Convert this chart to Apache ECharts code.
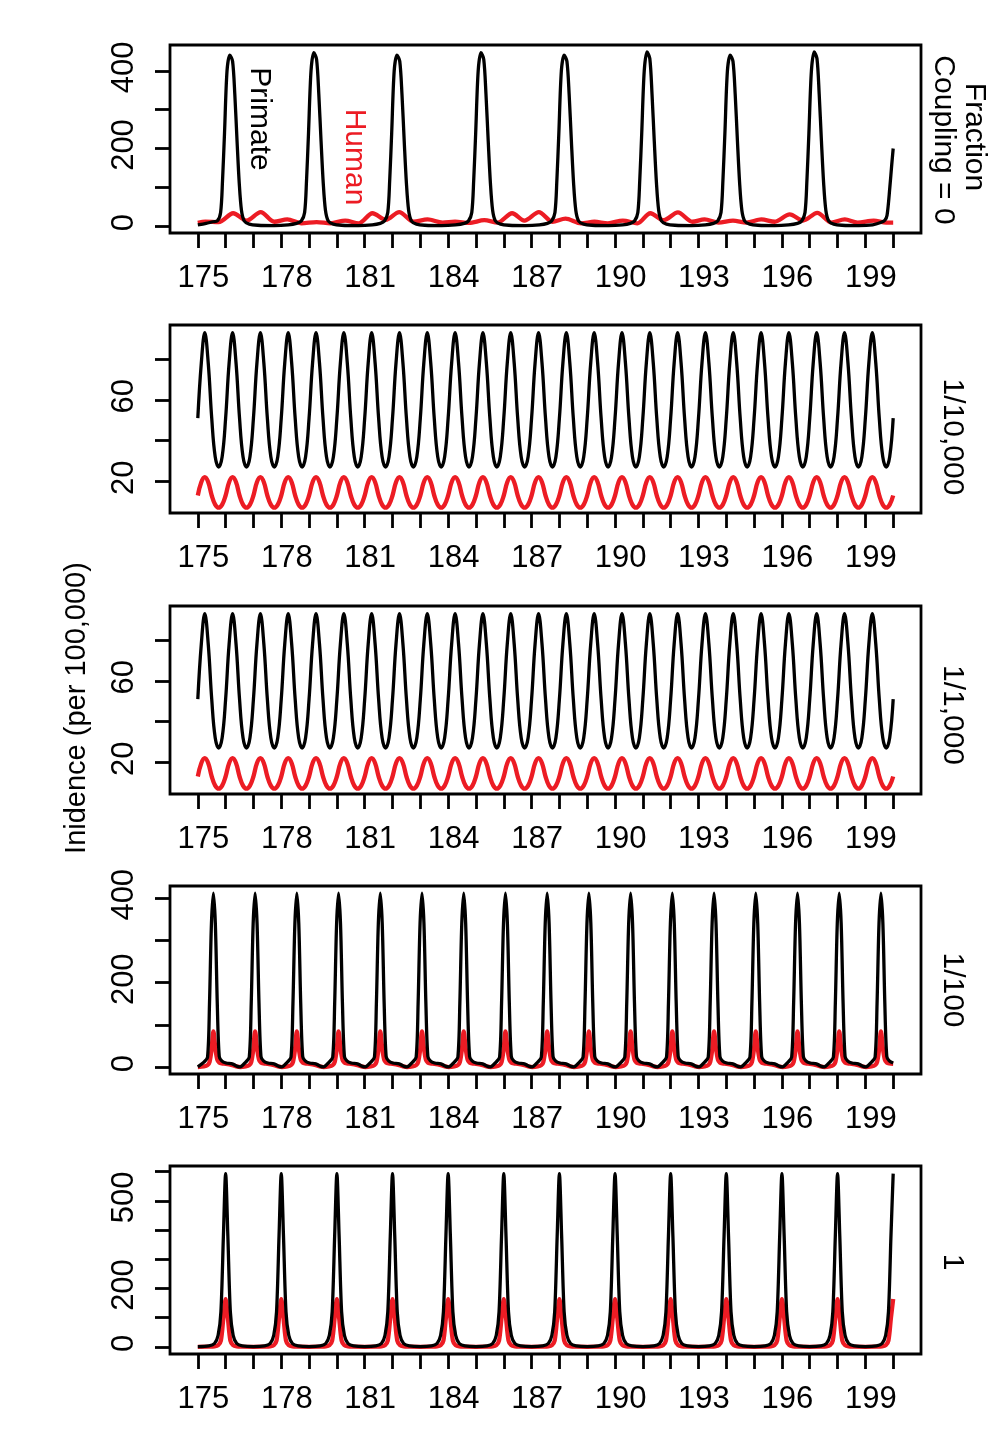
<!DOCTYPE html>
<html>
<head>
<meta charset="utf-8">
<script src="https://cdn.jsdelivr.net/npm/echarts@6/dist/echarts.min.js"></script>
<style>
  html, body { margin: 0; padding: 0; background: #fff; }
  #chart { width: 1004px; height: 1438px; }
</style>
</head>
<body>
<div id="chart"></div>
<script>
// 数据

var xTickYears = [175,176,177,178,179,180,181,182,183,184,185,186,187,188,189,190,191,192,193,194,195,196,197,198,199,200];
var xLabelYears = [175,178,181,184,187,190,193,196,199];

// coupling = 0
var primateFrac0 = [
  [175.0,3],[175.3,7],[175.55,11],[175.7,13],
  [175.82,35],[175.89,120],[175.96,240],[176.05,400],[176.15,441],[176.25,425],[176.33,340],[176.41,220],[176.49,110],[176.57,40],[176.67,13],[176.85,5],
  [177.15,2],[177.75,1],[178.25,3],[178.55,7],[178.72,13],
  [178.84,35],[178.91,120],[178.98,240],[179.07,400],[179.17,447],[179.27,430],[179.35,340],[179.43,220],[179.51,110],[179.59,40],[179.69,13],[179.87,5],
  [180.17,2],[180.77,1],[181.27,3],[181.56,7],[181.71,13],
  [181.83,35],[181.9,120],[181.97,240],[182.06,400],[182.16,441],[182.26,425],[182.34,340],[182.42,220],[182.5,110],[182.58,40],[182.68,13],[182.86,5],
  [183.16,2],[183.76,1],[184.26,3],[184.58,7],[184.73,13],
  [184.85,35],[184.92,120],[184.99,240],[185.08,400],[185.18,447],[185.28,430],[185.36,340],[185.44,220],[185.52,110],[185.6,40],[185.7,13],[185.88,5],
  [186.18,2],[186.78,1],[187.28,3],[187.57,7],[187.72,13],
  [187.84,35],[187.91,120],[187.98,240],[188.07,400],[188.17,441],[188.27,425],[188.35,340],[188.43,220],[188.51,110],[188.59,40],[188.69,13],[188.87,5],
  [189.17,2],[189.77,1],[190.27,3],[190.55,7],[190.7,13],
  [190.82,35],[190.89,120],[190.96,240],[191.05,400],[191.15,449],[191.25,432],[191.33,340],[191.41,220],[191.49,110],[191.57,40],[191.67,13],[191.85,5],
  [192.15,2],[192.75,1],[193.25,3],[193.54,7],[193.69,13],
  [193.81,35],[193.88,120],[193.95,240],[194.04,400],[194.14,441],[194.24,425],[194.32,340],[194.4,220],[194.48,110],[194.56,40],[194.66,13],[194.84,5],
  [195.14,2],[195.74,1],[196.24,3],[196.56,7],[196.71,13],
  [196.83,35],[196.9,120],[196.97,240],[197.06,400],[197.16,449],[197.26,432],[197.34,340],[197.42,220],[197.5,110],[197.58,40],[197.68,13],[197.86,5],
  [198.16,2],[198.76,1],[199.26,3],[199.55,9],[199.7,15],[199.78,28],[199.88,100],[199.95,160],[200.0,200]
];
var humanFrac0 = [
  [175.0,8],[175.27,11],[175.75,10],[176.27,33],[176.75,14],[177.26,36],[177.75,11],[178.22,17],[178.72,7],
  [179.27,10],[179.77,7],[180.3,14],[180.78,7],[181.28,33],[181.76,16],[182.24,36],[182.76,11],[183.26,17],
  [183.8,9],[184.25,11],[184.75,8],[185.3,15],[185.78,9],[186.3,33],[186.74,14],[187.26,36],[187.75,11],
  [188.22,19],[188.78,7],[189.26,11],[189.74,7],[190.28,14],[190.8,7],[191.27,33],[191.75,15],[192.26,35],
  [192.78,11],[193.22,17],[193.72,9],[194.24,14],[194.72,9],[195.26,17],[195.74,11],[196.28,30],[196.76,14],
  [197.27,34],[197.78,9],[198.26,17],[198.72,9],[199.3,14],[199.75,9],[200.0,9]
];

// 1/10,000 和 1/1,000（每 1/8 年一个点）
var eighthYears = [
  175,175.125,175.25,175.375,175.5,175.625,175.75,175.875,
  176,176.125,176.25,176.375,176.5,176.625,176.75,176.875,
  177,177.125,177.25,177.375,177.5,177.625,177.75,177.875,
  178,178.125,178.25,178.375,178.5,178.625,178.75,178.875,
  179,179.125,179.25,179.375,179.5,179.625,179.75,179.875,
  180,180.125,180.25,180.375,180.5,180.625,180.75,180.875,
  181,181.125,181.25,181.375,181.5,181.625,181.75,181.875,
  182,182.125,182.25,182.375,182.5,182.625,182.75,182.875,
  183,183.125,183.25,183.375,183.5,183.625,183.75,183.875,
  184,184.125,184.25,184.375,184.5,184.625,184.75,184.875,
  185,185.125,185.25,185.375,185.5,185.625,185.75,185.875,
  186,186.125,186.25,186.375,186.5,186.625,186.75,186.875,
  187,187.125,187.25,187.375,187.5,187.625,187.75,187.875,
  188,188.125,188.25,188.375,188.5,188.625,188.75,188.875,
  189,189.125,189.25,189.375,189.5,189.625,189.75,189.875,
  190,190.125,190.25,190.375,190.5,190.625,190.75,190.875,
  191,191.125,191.25,191.375,191.5,191.625,191.75,191.875,
  192,192.125,192.25,192.375,192.5,192.625,192.75,192.875,
  193,193.125,193.25,193.375,193.5,193.625,193.75,193.875,
  194,194.125,194.25,194.375,194.5,194.625,194.75,194.875,
  195,195.125,195.25,195.375,195.5,195.625,195.75,195.875,
  196,196.125,196.25,196.375,196.5,196.625,196.75,196.875,
  197,197.125,197.25,197.375,197.5,197.625,197.75,197.875,
  198,198.125,198.25,198.375,198.5,198.625,198.75,198.875,
  199,199.125,199.25,199.375,199.5,199.625,199.75,199.875,
  200
];
var primate10k = [
  51,78,93,78,51,32,27,32, 51,78,93,78,51,32,27,32, 51,78,93,78,51,32,27,32, 51,78,93,78,51,32,27,32,
  51,78,93,78,51,32,27,32, 51,78,93,78,51,32,27,32, 51,78,93,78,51,32,27,32, 51,78,93,78,51,32,27,32,
  51,78,93,78,51,32,27,32, 51,78,93,78,51,32,27,32, 51,78,93,78,51,32,27,32, 51,78,93,78,51,32,27,32,
  51,78,93,78,51,32,27,32, 51,78,93,78,51,32,27,32, 51,78,93,78,51,32,27,32, 51,78,93,78,51,32,27,32,
  51,78,93,78,51,32,27,32, 51,78,93,78,51,32,27,32, 51,78,93,78,51,32,27,32, 51,78,93,78,51,32,27,32,
  51,78,93,78,51,32,27,32, 51,78,93,78,51,32,27,32, 51,78,93,78,51,32,27,32, 51,78,93,78,51,32,27,32,
  51,78,93,78,51,32,27,32, 51
];
var human10k = [
  13,19.5,22,19.5,13,8.5,7,8.5, 13,19.5,22,19.5,13,8.5,7,8.5, 13,19.5,22,19.5,13,8.5,7,8.5, 13,19.5,22,19.5,13,8.5,7,8.5,
  13,19.5,22,19.5,13,8.5,7,8.5, 13,19.5,22,19.5,13,8.5,7,8.5, 13,19.5,22,19.5,13,8.5,7,8.5, 13,19.5,22,19.5,13,8.5,7,8.5,
  13,19.5,22,19.5,13,8.5,7,8.5, 13,19.5,22,19.5,13,8.5,7,8.5, 13,19.5,22,19.5,13,8.5,7,8.5, 13,19.5,22,19.5,13,8.5,7,8.5,
  13,19.5,22,19.5,13,8.5,7,8.5, 13,19.5,22,19.5,13,8.5,7,8.5, 13,19.5,22,19.5,13,8.5,7,8.5, 13,19.5,22,19.5,13,8.5,7,8.5,
  13,19.5,22,19.5,13,8.5,7,8.5, 13,19.5,22,19.5,13,8.5,7,8.5, 13,19.5,22,19.5,13,8.5,7,8.5, 13,19.5,22,19.5,13,8.5,7,8.5,
  13,19.5,22,19.5,13,8.5,7,8.5, 13,19.5,22,19.5,13,8.5,7,8.5, 13,19.5,22,19.5,13,8.5,7,8.5, 13,19.5,22,19.5,13,8.5,7,8.5,
  13,19.5,22,19.5,13,8.5,7,8.5, 13
];
var primate1k = [
  51,78,93,78,51,32,27,32, 51,78,93,78,51,32,27,32, 51,78,93,78,51,32,27,32, 51,78,93,78,51,32,27,32,
  51,78,93,78,51,32,27,32, 51,78,93,78,51,32,27,32, 51,78,93,78,51,32,27,32, 51,78,93,78,51,32,27,32,
  51,78,93,78,51,32,27,32, 51,78,93,78,51,32,27,32, 51,78,93,78,51,32,27,32, 51,78,93,78,51,32,27,32,
  51,78,93,78,51,32,27,32, 51,78,93,78,51,32,27,32, 51,78,93,78,51,32,27,32, 51,78,93,78,51,32,27,32,
  51,78,93,78,51,32,27,32, 51,78,93,78,51,32,27,32, 51,78,93,78,51,32,27,32, 51,78,93,78,51,32,27,32,
  51,78,93,78,51,32,27,32, 51,78,93,78,51,32,27,32, 51,78,93,78,51,32,27,32, 51,78,93,78,51,32,27,32,
  51,78,93,78,51,32,27,32, 51
];
var human1k = [
  13,19.5,22,19.5,13,8.5,7,8.5, 13,19.5,22,19.5,13,8.5,7,8.5, 13,19.5,22,19.5,13,8.5,7,8.5, 13,19.5,22,19.5,13,8.5,7,8.5,
  13,19.5,22,19.5,13,8.5,7,8.5, 13,19.5,22,19.5,13,8.5,7,8.5, 13,19.5,22,19.5,13,8.5,7,8.5, 13,19.5,22,19.5,13,8.5,7,8.5,
  13,19.5,22,19.5,13,8.5,7,8.5, 13,19.5,22,19.5,13,8.5,7,8.5, 13,19.5,22,19.5,13,8.5,7,8.5, 13,19.5,22,19.5,13,8.5,7,8.5,
  13,19.5,22,19.5,13,8.5,7,8.5, 13,19.5,22,19.5,13,8.5,7,8.5, 13,19.5,22,19.5,13,8.5,7,8.5, 13,19.5,22,19.5,13,8.5,7,8.5,
  13,19.5,22,19.5,13,8.5,7,8.5, 13,19.5,22,19.5,13,8.5,7,8.5, 13,19.5,22,19.5,13,8.5,7,8.5, 13,19.5,22,19.5,13,8.5,7,8.5,
  13,19.5,22,19.5,13,8.5,7,8.5, 13,19.5,22,19.5,13,8.5,7,8.5, 13,19.5,22,19.5,13,8.5,7,8.5, 13,19.5,22,19.5,13,8.5,7,8.5,
  13,19.5,22,19.5,13,8.5,7,8.5, 13
];

// 1/100
var p4Years = [175.0,
  175.22,175.35,175.42,175.49,175.56,175.63,175.70,175.77,175.86,176.01,176.24,176.42,176.52,
  176.72,176.85,176.92,176.99,177.06,177.13,177.20,177.27,177.36,177.51,177.74,177.92,178.02,
  178.22,178.35,178.42,178.49,178.56,178.63,178.70,178.77,178.86,179.01,179.24,179.42,179.52,
  179.72,179.85,179.92,179.99,180.06,180.13,180.20,180.27,180.36,180.51,180.74,180.92,181.02,
  181.22,181.35,181.42,181.49,181.56,181.63,181.70,181.77,181.86,182.01,182.24,182.42,182.52,
  182.72,182.85,182.92,182.99,183.06,183.13,183.20,183.27,183.36,183.51,183.74,183.92,184.02,
  184.22,184.35,184.42,184.49,184.56,184.63,184.70,184.77,184.86,185.01,185.24,185.42,185.52,
  185.72,185.85,185.92,185.99,186.06,186.13,186.20,186.27,186.36,186.51,186.74,186.92,187.02,
  187.22,187.35,187.42,187.49,187.56,187.63,187.70,187.77,187.86,188.01,188.24,188.42,188.52,
  188.72,188.85,188.92,188.99,189.06,189.13,189.20,189.27,189.36,189.51,189.74,189.92,190.02,
  190.22,190.35,190.42,190.49,190.56,190.63,190.70,190.77,190.86,191.01,191.24,191.42,191.52,
  191.72,191.85,191.92,191.99,192.06,192.13,192.20,192.27,192.36,192.51,192.74,192.92,193.02,
  193.22,193.35,193.42,193.49,193.56,193.63,193.70,193.77,193.86,194.01,194.24,194.42,194.52,
  194.72,194.85,194.92,194.99,195.06,195.13,195.20,195.27,195.36,195.51,195.74,195.92,196.02,
  196.22,196.35,196.42,196.49,196.56,196.63,196.70,196.77,196.86,197.01,197.24,197.42,197.52,
  197.72,197.85,197.92,197.99,198.06,198.13,198.20,198.27,198.36,198.51,198.74,198.92,199.02,
  199.22,199.35,199.42,199.49,199.56,199.63,199.70,199.77,199.86,200.0
];
var primate100 = [1,
  12,24,150,340,412,340,150,26,15,10,8,2,1,
  12,24,150,340,412,340,150,26,15,10,8,2,1,
  12,24,150,340,412,340,150,26,15,10,8,2,1,
  12,24,150,340,412,340,150,26,15,10,8,2,1,
  12,24,150,340,412,340,150,26,15,10,8,2,1,
  12,24,150,340,412,340,150,26,15,10,8,2,1,
  12,24,150,340,412,340,150,26,15,10,8,2,1,
  12,24,150,340,412,340,150,26,15,10,8,2,1,
  12,24,150,340,412,340,150,26,15,10,8,2,1,
  12,24,150,340,412,340,150,26,15,10,8,2,1,
  12,24,150,340,412,340,150,26,15,10,8,2,1,
  12,24,150,340,412,340,150,26,15,10,8,2,1,
  12,24,150,340,412,340,150,26,15,10,8,2,1,
  12,24,150,340,412,340,150,26,15,10,8,2,1,
  12,24,150,340,412,340,150,26,15,10,8,2,1,
  12,24,150,340,412,340,150,26,15,10,8,2,1,
  12,24,150,340,412,340,150,26,15,10
];
var human100 = [0.5,
  2,5,12,40,85,45,18,11,9,8,5,1.5,0.5,
  2,5,12,40,85,45,18,11,9,8,5,1.5,0.5,
  2,5,12,40,85,45,18,11,9,8,5,1.5,0.5,
  2,5,12,40,85,45,18,11,9,8,5,1.5,0.5,
  2,5,12,40,85,45,18,11,9,8,5,1.5,0.5,
  2,5,12,40,85,45,18,11,9,8,5,1.5,0.5,
  2,5,12,40,85,45,18,11,9,8,5,1.5,0.5,
  2,5,12,40,85,45,18,11,9,8,5,1.5,0.5,
  2,5,12,40,85,45,18,11,9,8,5,1.5,0.5,
  2,5,12,40,85,45,18,11,9,8,5,1.5,0.5,
  2,5,12,40,85,45,18,11,9,8,5,1.5,0.5,
  2,5,12,40,85,45,18,11,9,8,5,1.5,0.5,
  2,5,12,40,85,45,18,11,9,8,5,1.5,0.5,
  2,5,12,40,85,45,18,11,9,8,5,1.5,0.5,
  2,5,12,40,85,45,18,11,9,8,5,1.5,0.5,
  2,5,12,40,85,45,18,11,9,8,5,1.5,0.5,
  2,5,12,40,85,45,18,11,9,8
];

// 1
var p5Years = [175.0,
  175.4,175.6,175.73,175.83,175.92,176.0,176.08,176.17,176.27,176.4,176.6,177.0,
  177.4,177.6,177.73,177.83,177.92,178.0,178.08,178.17,178.27,178.4,178.6,179.0,
  179.4,179.6,179.73,179.83,179.92,180.0,180.08,180.17,180.27,180.4,180.6,181.0,
  181.4,181.6,181.73,181.83,181.92,182.0,182.08,182.17,182.27,182.4,182.6,183.0,
  183.4,183.6,183.73,183.83,183.92,184.0,184.08,184.17,184.27,184.4,184.6,185.0,
  185.4,185.6,185.73,185.83,185.92,186.0,186.08,186.17,186.27,186.4,186.6,187.0,
  187.4,187.6,187.73,187.83,187.92,188.0,188.08,188.17,188.27,188.4,188.6,189.0,
  189.4,189.6,189.73,189.83,189.92,190.0,190.08,190.17,190.27,190.4,190.6,191.0,
  191.4,191.6,191.73,191.83,191.92,192.0,192.08,192.17,192.27,192.4,192.6,193.0,
  193.4,193.6,193.73,193.83,193.92,194.0,194.08,194.17,194.27,194.4,194.6,195.0,
  195.4,195.6,195.73,195.83,195.92,196.0,196.08,196.17,196.27,196.4,196.6,197.0,
  197.4,197.6,197.73,197.83,197.92,198.0,198.08,198.17,198.27,198.4,198.6,199.0,
  199.4,199.6,199.73,199.83,199.92,200.0
];
var primate1 = [1.5,
  4,12,40,120,380,593,380,120,40,12,4,1.5,
  4,12,40,120,380,593,380,120,40,12,4,1.5,
  4,12,40,120,380,593,380,120,40,12,4,1.5,
  4,12,40,120,380,593,380,120,40,12,4,1.5,
  4,12,40,120,380,593,380,120,40,12,4,1.5,
  4,12,40,120,380,593,380,120,40,12,4,1.5,
  4,12,40,120,380,593,380,120,40,12,4,1.5,
  4,12,40,120,380,593,380,120,40,12,4,1.5,
  4,12,40,120,380,593,380,120,40,12,4,1.5,
  4,12,40,120,380,593,380,120,40,12,4,1.5,
  4,12,40,120,380,593,380,120,40,12,4,1.5,
  4,12,40,120,380,593,380,120,40,12,4,1.5,
  4,12,40,120,380,593
];
var human1 = [0.5,
  1,2,6,22,100,164,100,22,6,2,1,0.5,
  1,2,6,22,100,164,100,22,6,2,1,0.5,
  1,2,6,22,100,164,100,22,6,2,1,0.5,
  1,2,6,22,100,164,100,22,6,2,1,0.5,
  1,2,6,22,100,164,100,22,6,2,1,0.5,
  1,2,6,22,100,164,100,22,6,2,1,0.5,
  1,2,6,22,100,164,100,22,6,2,1,0.5,
  1,2,6,22,100,164,100,22,6,2,1,0.5,
  1,2,6,22,100,164,100,22,6,2,1,0.5,
  1,2,6,22,100,164,100,22,6,2,1,0.5,
  1,2,6,22,100,164,100,22,6,2,1,0.5,
  1,2,6,22,100,164,100,22,6,2,1,0.5,
  1,2,6,22,100,164
];

var FONT = '"Liberation Sans", Arial, Helvetica, sans-serif';
var BLACK = '#000000';
var RED = '#ec1c24';

function pairs(t, v) {
  var out = [];
  for (var i = 0; i < t.length; i++) {
    out.push([t[i], v[i]]);
  }
  return out;
}

// 五个面板
var panels = [
  {top: 45,   yMin: -18, yMax: 467,  yTicks: [0,100,200,300,400],     yLabels: [0,200,400], primate: primateFrac0, human: humanFrac0, smooth: 0.3},
  {top: 325,  yMin: 4.4, yMax: 96.8, yTicks: [20,40,60,80],           yLabels: [20,60],     primate: pairs(eighthYears, primate10k), human: pairs(eighthYears, human10k), smooth: 0.4},
  {top: 606,  yMin: 4.4, yMax: 96.8, yTicks: [20,40,60,80],           yLabels: [20,60],     primate: pairs(eighthYears, primate1k), human: pairs(eighthYears, human1k), smooth: 0.4},
  {top: 886,  yMin: -16, yMax: 429,  yTicks: [0,100,200,300,400],     yLabels: [0,200,400], primate: pairs(p4Years, primate100), human: pairs(p4Years, human100), smooth: 0.3},
  {top: 1166, yMin: -24, yMax: 619,  yTicks: [0,100,200,300,400,500,600], yLabels: [0,200,500], primate: pairs(p5Years, primate1), human: pairs(p5Years, human1), smooth: 0.3}
];

var grids = [], xAxes = [], yAxes = [], series = [];

panels.forEach(function (p, i) {
  grids.push({
    left: 170, top: p.top, width: 751, height: 188,
    show: true, borderColor: BLACK, borderWidth: 2.8, backgroundColor: 'transparent',
    containLabel: false, outerBoundsMode: 'none'
  });
  xAxes.push({
    type: 'value', gridIndex: i, min: 174, max: 201,
    axisLine: {show: false, onZero: false},
    splitLine: {show: false},
    axisTick: {show: true, inside: false, length: 15, customValues: xTickYears, lineStyle: {color: BLACK, width: 2.8}},
    axisLabel: {customValues: xLabelYears, margin: 30, fontSize: 31, fontFamily: FONT, color: BLACK, padding: [0, 0, 0, 11]}
  });
  yAxes.push({
    type: 'value', gridIndex: i, min: p.yMin, max: p.yMax,
    axisLine: {show: false, onZero: false},
    splitLine: {show: false},
    axisTick: {show: true, inside: false, length: 15, customValues: p.yTicks, lineStyle: {color: BLACK, width: 2.8}},
    axisLabel: {customValues: p.yLabels, rotate: 90, margin: 30, fontSize: 31, fontFamily: FONT, color: BLACK, padding: [0, 0, 0, 7]}
  });
  series.push({
    type: 'line', xAxisIndex: i, yAxisIndex: i, data: p.human,
    showSymbol: false, symbol: 'none', smooth: p.smooth, silent: true, z: 2,
    lineStyle: {color: RED, width: 4.3}
  });
  series.push({
    type: 'line', xAxisIndex: i, yAxisIndex: i, data: p.primate,
    showSymbol: false, symbol: 'none', smooth: p.smooth, silent: true, z: 3,
    lineStyle: {color: BLACK, width: 3.3}
  });
});

function vText(text, x, y, rot, color, size) {
  return {
    type: 'text', x: x, y: y, rotation: rot, silent: true, z: 10,
    style: {
      text: text, fill: color, font: size + 'px ' + FONT,
      align: 'center', verticalAlign: 'middle',
      textAlign: 'center', textVerticalAlign: 'middle'
    }
  };
}

var CW = -Math.PI / 2;   // 顺时针, 从上往下读
var graphics = [
  vText('Primate', 259, 119, CW, BLACK, 30),
  vText('Human', 354, 157, CW, RED, 30),
  vText('Fraction', 974, 137, CW, BLACK, 30),
  vText('Coupling = 0', 943, 140, CW, BLACK, 30),
  vText('1/10,000', 952, 437, CW, BLACK, 30),
  vText('1/1,000', 952, 715, CW, BLACK, 30),
  vText('1/100', 952, 990, CW, BLACK, 30),
  vText('1', 952, 1262, CW, BLACK, 30),
  vText('Inidence (per 100,000)', 77, 708, Math.PI / 2, BLACK, 29)
];

var chart = echarts.init(document.getElementById('chart'), null, {renderer: 'canvas'});
chart.setOption({
  animation: false,
  backgroundColor: '#ffffff',
  grid: grids,
  xAxis: xAxes,
  yAxis: yAxes,
  series: series,
  graphic: graphics
});
</script>
</body>
</html>
